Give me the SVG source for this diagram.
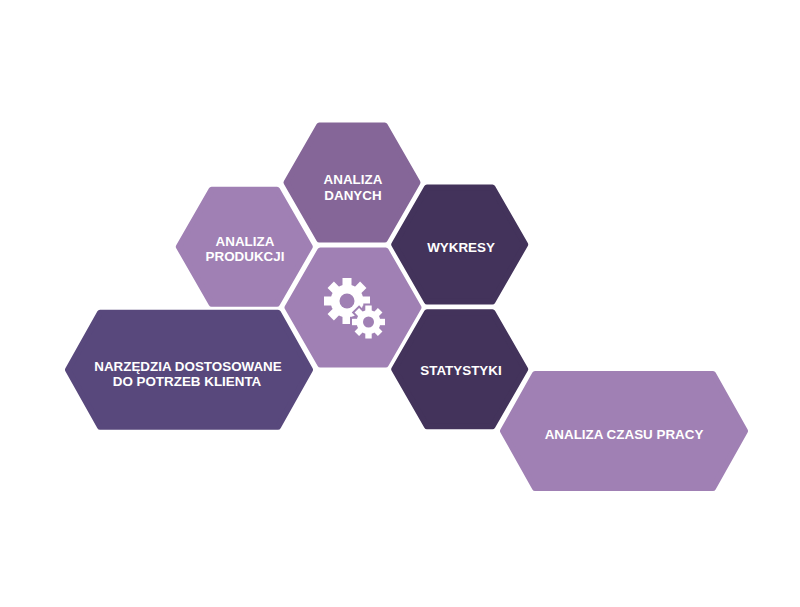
<svg xmlns="http://www.w3.org/2000/svg" xmlns:xlink="http://www.w3.org/1999/xlink" width="800" height="607" viewBox="0 0 800 607">
<style>
.hex{stroke-width:6;stroke-linejoin:round}
.light{fill:#A080B4;stroke:#A080B4}
.mid{fill:#856698;stroke:#856698}
.dark{fill:#43335B;stroke:#43335B}
.navy{fill:#58487C;stroke:#58487C}
.t{font-family:"Liberation Sans",Arial,sans-serif;font-weight:bold;font-size:13.4px;fill:#FFFFFF;text-anchor:middle}
.gear{fill:#FFFFFF}
</style>
<defs>
<polygon id="hexS" points="-65.5,0 -32.75,-57 32.75,-57 65.5,0 32.75,57 -32.75,57"/>
<polygon id="hexW" points="-121,0 -89,-57 89,-57 121,0 89,57 -89,57"/>
<g id="gearBig">
<circle r="16.5"/>
<rect x="-4.5" y="-23" width="9" height="10"/>
<rect x="-4.5" y="-23" width="9" height="10" transform="rotate(45)"/>
<rect x="-4.5" y="-23" width="9" height="10" transform="rotate(90)"/>
<rect x="-4.5" y="-23" width="9" height="10" transform="rotate(135)"/>
<rect x="-4.5" y="-23" width="9" height="10" transform="rotate(180)"/>
<rect x="-4.5" y="-23" width="9" height="10" transform="rotate(225)"/>
<rect x="-4.5" y="-23" width="9" height="10" transform="rotate(270)"/>
<rect x="-4.5" y="-23" width="9" height="10" transform="rotate(315)"/>
</g>
<g id="gearSmall">
<circle r="12"/>
<rect x="-3.2" y="-16.5" width="6.4" height="8"/>
<rect x="-3.2" y="-16.5" width="6.4" height="8" transform="rotate(45)"/>
<rect x="-3.2" y="-16.5" width="6.4" height="8" transform="rotate(90)"/>
<rect x="-3.2" y="-16.5" width="6.4" height="8" transform="rotate(135)"/>
<rect x="-3.2" y="-16.5" width="6.4" height="8" transform="rotate(180)"/>
<rect x="-3.2" y="-16.5" width="6.4" height="8" transform="rotate(225)"/>
<rect x="-3.2" y="-16.5" width="6.4" height="8" transform="rotate(270)"/>
<rect x="-3.2" y="-16.5" width="6.4" height="8" transform="rotate(315)"/>
</g>
</defs>
<rect width="800" height="607" fill="#FFFFFF"/>
<g id="connectors"/>
<g id="node-analiza-danych">
<use href="#hexS" class="hex mid" transform="translate(352,182.5)"/>
<text class="t" x="353" y="184">ANALIZA</text>
<text class="t" x="353" y="200">DANYCH</text>
</g>
<g id="node-analiza-produkcji">
<use href="#hexS" class="hex light" transform="translate(244.3,246.7)"/>
<text class="t" x="245" y="245.7">ANALIZA</text>
<text class="t" x="245" y="261">PRODUKCJI</text>
</g>
<g id="node-wykresy">
<use href="#hexS" class="hex dark" transform="translate(459.7,244.5)"/>
<text class="t" x="461" y="251.5">WYKRESY</text>
</g>
<g id="node-center">
<use href="#hexS" class="hex light" transform="translate(353,307.5)"/>
<g transform="translate(347,301)">
<use href="#gearBig" class="gear"/>
<circle r="7.5" fill="#A080B4"/>
</g>
<g transform="translate(368.5,322)">
<use href="#gearSmall" fill="#A080B4" stroke="#A080B4" stroke-width="4"/>
<use href="#gearSmall" class="gear"/>
<circle r="5.5" fill="#A080B4"/>
</g>
</g>
<g id="node-statystyki">
<use href="#hexS" class="hex dark" transform="translate(459.7,369.3)"/>
<text class="t" x="461" y="375">STATYSTYKI</text>
</g>
<g id="node-narzedzia">
<use href="#hexW" class="hex navy" transform="translate(189,369.7)"/>
<text class="t" x="188" y="370.7">NARZĘDZIA DOSTOSOWANE</text>
<text class="t" x="187" y="386">DO POTRZEB KLIENTA</text>
</g>
<g id="node-analiza-czasu-pracy">
<use href="#hexW" class="hex light" transform="translate(624,431)"/>
<text class="t" x="624" y="439">ANALIZA CZASU PRACY</text>
</g>
</svg>
